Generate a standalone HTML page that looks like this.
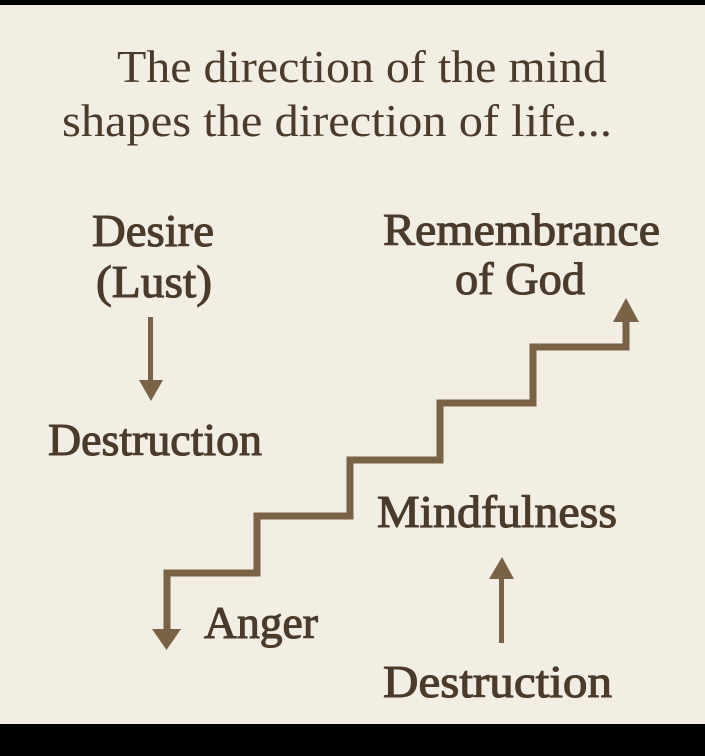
<!DOCTYPE html>
<html><head><meta charset="utf-8"><style>
html,body{margin:0;padding:0;background:#000;}
svg{display:block}
</style></head><body>
<svg width="705" height="756" viewBox="0 0 705 756" xmlns="http://www.w3.org/2000/svg">
<rect x="0" y="0" width="705" height="756" fill="#000"/>
<rect x="0" y="5" width="705" height="719" fill="#f3eee4"/>
<g font-family="Liberation Serif, serif" fill="#4b3b2b">
<text x="117" y="82" font-size="46" textLength="490" lengthAdjust="spacingAndGlyphs">The direction of the mind</text>
<text x="62" y="136" font-size="46" textLength="550" lengthAdjust="spacingAndGlyphs">shapes the direction of life...</text>
<g font-size="46" stroke="#4b3b2b" stroke-width="1.1">
<text x="92" y="246" textLength="122" lengthAdjust="spacingAndGlyphs">Desire</text>
<text x="96" y="297" textLength="116" lengthAdjust="spacingAndGlyphs">(Lust)</text>
<text x="383" y="245" textLength="277" lengthAdjust="spacingAndGlyphs">Remembrance</text>
<text x="455" y="294" textLength="130" lengthAdjust="spacingAndGlyphs">of God</text>
<text x="48" y="455" textLength="214" lengthAdjust="spacingAndGlyphs">Destruction</text>
<text x="377" y="527" textLength="240" lengthAdjust="spacingAndGlyphs">Mindfulness</text>
<text x="204" y="638" textLength="114" lengthAdjust="spacingAndGlyphs">Anger</text>
<text x="383" y="697" textLength="229" lengthAdjust="spacingAndGlyphs">Destruction</text>
</g>
</g>
<g fill="#7a6246" stroke="none">
<rect x="148" y="317" width="5" height="66"/>
<polygon points="139,380 163,380 151,401"/>
<rect x="499" y="575" width="5" height="68"/>
<polygon points="489,579 514,579 502,557"/>
<polygon points="152,629 181,629 166.5,650"/>
<polygon points="613,322 639,322 626,298"/>
</g>
<polyline points="167,631 167,573 257,573 257,516 350,516 350,460 440,460 440,403 533,403 533,347 626,347 626,320" fill="none" stroke="#7a6246" stroke-width="7" stroke-linejoin="miter"/>
</svg>
</body></html>
